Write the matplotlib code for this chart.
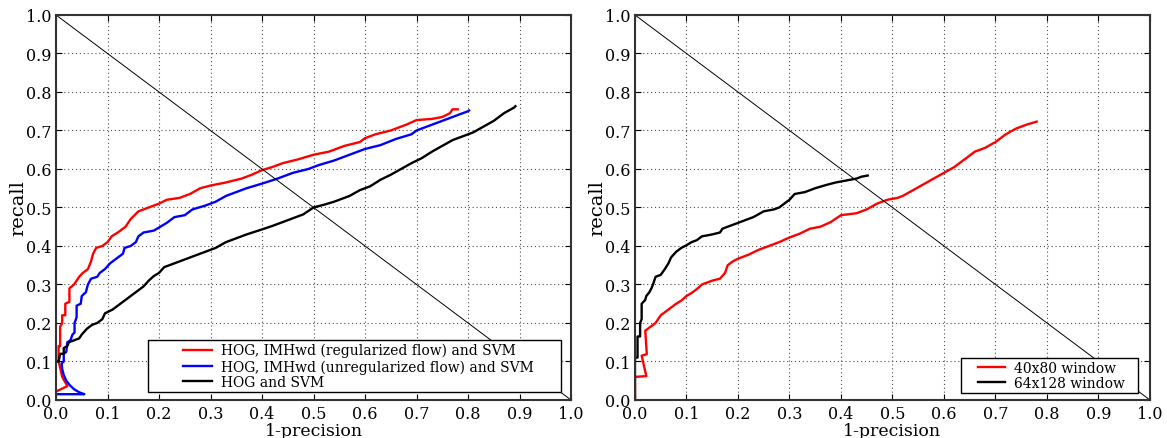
import numpy as np
import matplotlib
matplotlib.use("Agg")
import matplotlib.pyplot as plt
from matplotlib.legend_handler import HandlerLine2D
from matplotlib.lines import Line2D

plt.rcParams['font.family'] = 'DejaVu Serif'

# left panel: three detectors
reg_x = [0.000, 0.022, 0.012, 0.007, 0.005, 0.005, 0.008, 0.008, 0.012, 0.012, 0.018, 0.018, 0.026, 0.026,
         0.035, 0.045, 0.052, 0.062, 0.068, 0.072, 0.078, 0.090, 0.100, 0.108, 0.120, 0.135, 0.145, 0.160,
         0.180, 0.200, 0.215, 0.240, 0.260, 0.280, 0.300, 0.330, 0.360, 0.380, 0.400, 0.420, 0.440, 0.470,
         0.500, 0.530, 0.560, 0.590, 0.600, 0.620, 0.650, 0.680, 0.700, 0.730, 0.750, 0.765, 0.770, 0.780]
reg_y = [0.022, 0.036, 0.060, 0.090, 0.100, 0.140, 0.140, 0.190, 0.200, 0.220, 0.220, 0.250, 0.255, 0.290,
         0.300, 0.320, 0.330, 0.340, 0.360, 0.380, 0.395, 0.400, 0.410, 0.425, 0.435, 0.450, 0.470, 0.490,
         0.500, 0.510, 0.520, 0.525, 0.535, 0.550, 0.557, 0.565, 0.575, 0.585, 0.597, 0.605, 0.615, 0.625,
         0.637, 0.645, 0.660, 0.670, 0.680, 0.690, 0.700, 0.715, 0.727, 0.730, 0.735, 0.745, 0.755, 0.755]

unreg_x = [0.000, 0.055, 0.045, 0.035, 0.027, 0.020, 0.015, 0.012, 0.011, 0.015, 0.015, 0.020, 0.022, 0.028,
           0.032, 0.036, 0.036, 0.040, 0.040, 0.048, 0.050, 0.058, 0.062, 0.068, 0.080, 0.085, 0.095, 0.105,
           0.115, 0.125, 0.130, 0.133, 0.145, 0.155, 0.160, 0.170, 0.190, 0.200, 0.215, 0.230, 0.250, 0.265,
           0.290, 0.310, 0.330, 0.350, 0.370, 0.400, 0.430, 0.460, 0.490, 0.510, 0.540, 0.570, 0.600, 0.630,
           0.660, 0.690, 0.700, 0.720, 0.750, 0.770, 0.780, 0.800, 0.802]
unreg_y = [0.015, 0.015, 0.020, 0.028, 0.038, 0.050, 0.065, 0.080, 0.095, 0.100, 0.120, 0.125, 0.150, 0.155,
           0.170, 0.175, 0.200, 0.215, 0.245, 0.250, 0.270, 0.280, 0.300, 0.315, 0.320, 0.330, 0.340, 0.355,
           0.365, 0.375, 0.380, 0.395, 0.400, 0.410, 0.425, 0.435, 0.440, 0.448, 0.460, 0.475, 0.480, 0.495,
           0.505, 0.515, 0.530, 0.540, 0.550, 0.562, 0.575, 0.590, 0.600, 0.610, 0.622, 0.637, 0.652, 0.662,
           0.678, 0.690, 0.700, 0.710, 0.725, 0.735, 0.740, 0.750, 0.752]

hog_x = [0.000, 0.005, 0.008, 0.015, 0.015, 0.022, 0.025, 0.035, 0.045, 0.050, 0.060, 0.070, 0.080, 0.090,
         0.095, 0.110, 0.120, 0.130, 0.140, 0.150, 0.160, 0.170, 0.180, 0.190, 0.200, 0.210, 0.230, 0.250,
         0.270, 0.290, 0.310, 0.330, 0.350, 0.370, 0.400, 0.420, 0.440, 0.460, 0.480, 0.500, 0.520, 0.540,
         0.570, 0.590, 0.610, 0.630, 0.650, 0.670, 0.690, 0.710, 0.730, 0.750, 0.770, 0.790, 0.810, 0.830,
         0.850, 0.870, 0.890, 0.892]
hog_y = [0.100, 0.100, 0.120, 0.120, 0.135, 0.140, 0.150, 0.155, 0.160, 0.170, 0.185, 0.195, 0.200, 0.210,
         0.225, 0.235, 0.245, 0.255, 0.265, 0.275, 0.285, 0.295, 0.310, 0.322, 0.330, 0.345, 0.355, 0.365,
         0.375, 0.385, 0.395, 0.410, 0.420, 0.430, 0.443, 0.452, 0.462, 0.472, 0.482, 0.500, 0.507, 0.515,
         0.530, 0.545, 0.555, 0.572, 0.585, 0.600, 0.615, 0.628, 0.645, 0.660, 0.675, 0.685, 0.695, 0.710,
         0.725, 0.745, 0.760, 0.763]

# right panel: window sizes
w40_x = [0.000, 0.000, 0.022, 0.013, 0.023, 0.020, 0.030, 0.040, 0.050, 0.060, 0.070, 0.080, 0.090, 0.100,
         0.110, 0.120, 0.130, 0.140, 0.150, 0.165, 0.175, 0.180, 0.190, 0.200, 0.220, 0.240, 0.260, 0.280,
         0.300, 0.320, 0.340, 0.360, 0.380, 0.400, 0.430, 0.450, 0.470, 0.490, 0.510, 0.520, 0.540, 0.560,
         0.580, 0.600, 0.620, 0.640, 0.660, 0.680, 0.700, 0.720, 0.740, 0.760, 0.780]
w40_y = [0.000, 0.060, 0.062, 0.115, 0.119, 0.180, 0.190, 0.200, 0.220, 0.230, 0.240, 0.250, 0.258, 0.270,
         0.278, 0.288, 0.300, 0.305, 0.310, 0.315, 0.330, 0.350, 0.360, 0.367, 0.377, 0.390, 0.400, 0.410,
         0.422, 0.432, 0.445, 0.450, 0.462, 0.480, 0.485, 0.495, 0.510, 0.520, 0.525, 0.530, 0.545, 0.560,
         0.575, 0.590, 0.605, 0.625, 0.645, 0.655, 0.670, 0.690, 0.705, 0.715, 0.723]

w64_x = [0.000, 0.000, 0.005, 0.005, 0.010, 0.010, 0.013, 0.013, 0.020, 0.022, 0.028, 0.032, 0.035, 0.040,
         0.050, 0.058, 0.065, 0.070, 0.080, 0.090, 0.100, 0.110, 0.120, 0.130, 0.150, 0.165, 0.170, 0.190,
         0.210, 0.230, 0.250, 0.270, 0.280, 0.290, 0.300, 0.310, 0.330, 0.350, 0.370, 0.390, 0.410, 0.430,
         0.440, 0.452]
w64_y = [0.000, 0.110, 0.110, 0.165, 0.165, 0.200, 0.210, 0.250, 0.260, 0.270, 0.280, 0.290, 0.300, 0.320,
         0.325, 0.340, 0.355, 0.370, 0.385, 0.395, 0.402, 0.410, 0.415, 0.425, 0.430, 0.435, 0.445, 0.455,
         0.465, 0.475, 0.490, 0.495, 0.500, 0.510, 0.520, 0.535, 0.540, 0.550, 0.558, 0.565, 0.570, 0.575,
         0.580, 0.583]

ticks = np.arange(0, 1.01, 0.1)

fig = plt.figure(figsize=(11.67, 4.39), dpi=100)
ax1 = fig.add_axes([0.048, 0.0866, 0.4413, 0.877])
ax2 = fig.add_axes([0.5441, 0.0866, 0.4413, 0.877])


def style(ax):
    ax.plot([0, 1], [1, 0], color='k', lw=0.7)
    ax.set_xlim(0, 1)
    ax.set_ylim(0, 1)
    ax.set_xticks(ticks)
    ax.set_yticks(ticks)
    ax.set_xticklabels(['%.1f' % t for t in ticks])
    ax.set_yticklabels(['%.1f' % t for t in ticks])
    ax.grid(True, color='0.3', linestyle=(0, (1, 2.5)), linewidth=0.8)
    ax.tick_params(direction='in', top=True, right=True, length=4, labelsize=11.5, pad=3.5)
    for s in ax.spines.values():
        s.set_linewidth(1.5)
        s.set_color('0.2')
    ax.set_xlabel('1-precision', fontsize=12.5, labelpad=0)
    ax.set_ylabel('recall', fontsize=14, labelpad=-1)


def legend(ax, box, fs, xpad, hlen):
    leg = ax.legend(loc='lower left', bbox_to_anchor=box, mode='expand', borderaxespad=0,
                    fontsize=fs, fancybox=False, framealpha=1, borderpad=0.2,
                    handlelength=hlen, handletextpad=0.65, labelspacing=0.12,
                    handler_map={Line2D: HandlerLine2D(xpad=xpad)})
    leg.get_frame().set_edgecolor('k')
    leg.get_frame().set_linewidth(1.0)


ax1.plot(reg_x, reg_y, color='red', lw=1.7, label='HOG, IMHwd (regularized flow) and SVM')
ax1.plot(unreg_x, unreg_y, color='blue', lw=1.7, label='HOG, IMHwd (unregularized flow) and SVM')
ax1.plot(hog_x, hog_y, color='black', lw=1.7, label='HOG and SVM')
style(ax1)
legend(ax1, (0.1786, 0.0208, 0.802, 0.14), 10, 2.3, 4.4)

ax2.plot(w40_x, w40_y, color='red', lw=1.7, label='40x80 window')
ax2.plot(w64_x, w64_y, color='black', lw=1.7, label='64x128 window')
style(ax2)
legend(ax2, (0.633, 0.018, 0.344, 0.08), 10, 1.0, 3.0)

fig.savefig('out.png', dpi=100)
